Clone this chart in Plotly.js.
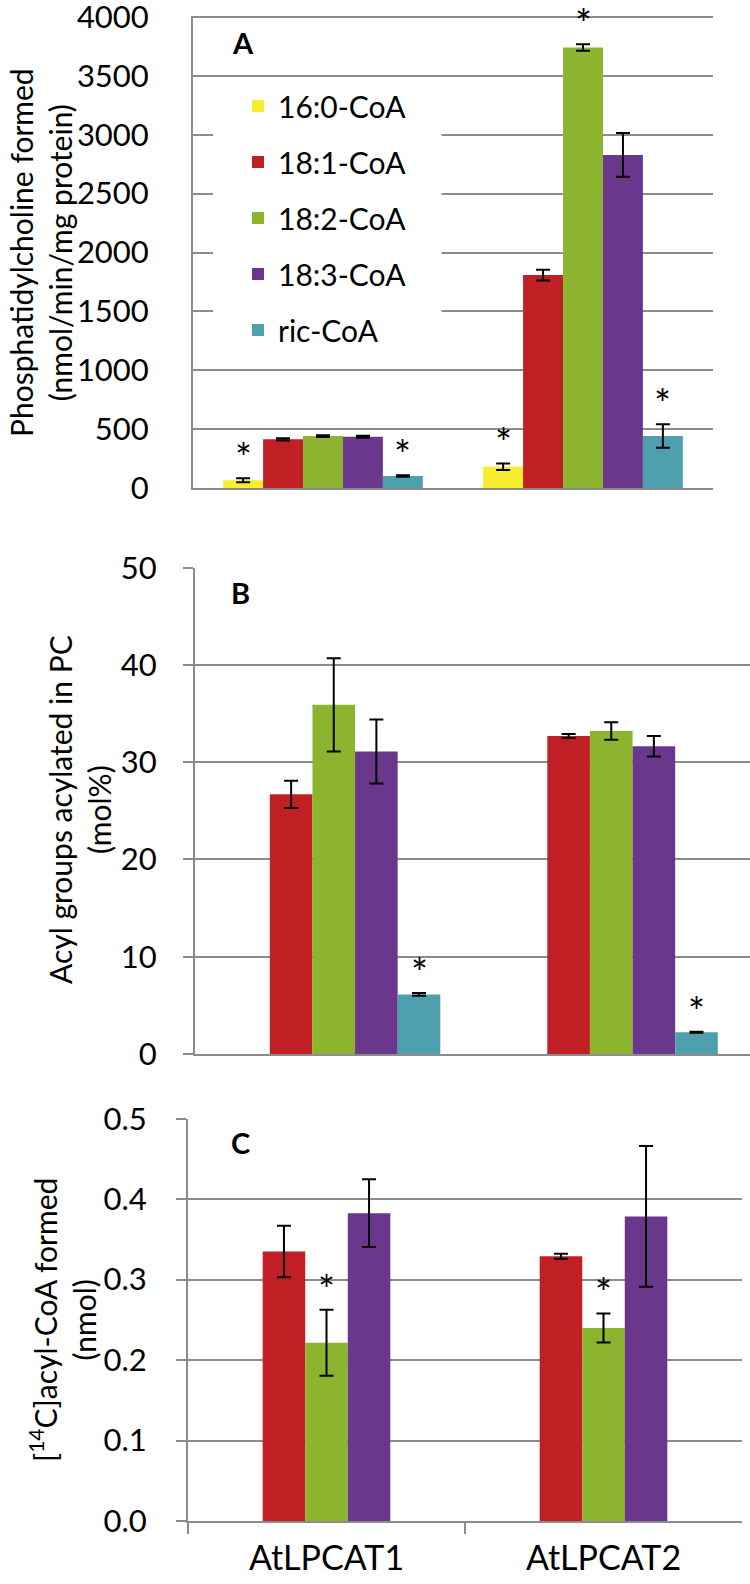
<!DOCTYPE html>
<html>
<head>
<meta charset="utf-8">
<script src="https://cdn.plot.ly/plotly-3.0.1.min.js"></script>
<style>html,body{margin:0;padding:0;background:#fff;}#chart{width:750px;height:1584px;}</style>
</head>
<body>
<div id="chart"></div>
<script>
// ---------- data ----------
const categories = ['AtLPCAT1', 'AtLPCAT2'];
const seriesNames = ['16:0-CoA', '18:1-CoA', '18:2-CoA', '18:3-CoA', 'ric-CoA'];
const seriesColors = ['#F8EE2D', '#C01F24', '#8CB42F', '#6B378C', '#4FA0AE'];

// Panel A: phosphatidylcholine formed (nmol/min/mg protein)
const a160 = [65, 181];     const a160Err = [17, 28];
const a181 = [413, 1808];   const a181Err = [9, 45];
const a182 = [441, 3741];   const a182Err = [7, 28];
const a183 = [435, 2829];   const a183Err = [8, 185];
const aRic = [102, 441];    const aRicErr = [7, 100];
const aSig = [[true, true], [false, false], [false, true], [false, false], [true, true]];

// Panel B: acyl groups acylated in PC (mol%)
const b160 = [null, null];  const b160Err = [null, null];
const b181 = [26.7, 32.7];  const b181Err = [1.4, 0.2];
const b182 = [35.9, 33.2];  const b182Err = [4.8, 0.9];
const b183 = [31.1, 31.65]; const b183Err = [3.3, 1.05];
const bRic = [6.13, 2.23];  const bRicErr = [0.15, 0.05];
const bSig = [[false, false], [false, false], [false, false], [false, false], [true, true]];

// Panel C: [14C]acyl-CoA formed (nmol)
const c160 = [null, null];    const c160Err = [null, null];
const c181 = [0.335, 0.329];  const c181Err = [0.032, 0.003];
const c182 = [0.2215, 0.240]; const c182Err = [0.041, 0.018];
const c183 = [0.3826, 0.3785];const c183Err = [0.042, 0.0875];
const cRic = [null, null];    const cRicErr = [null, null];
const cSig = [[false, false], [false, false], [true, true], [false, false], [false, false]];

const yTicksA = [0, 500, 1000, 1500, 2000, 2500, 3000, 3500, 4000];
const yTicksB = [0, 10, 20, 30, 40, 50];
const yTicksC = [0, 0.1, 0.2, 0.3, 0.4, 0.5];

// ---------- layout helpers ----------
const W = 750, H = 1584;
const px = v => v / W;
const py = v => 1 - v / H;
const FONT = 'Lato, "Open Sans", sans-serif';
const GRID = '#8C8C8C';
const BARGAP = 0.232;
const TICKSIZE = 31;

const panels = [
  {vals: [a160, a181, a182, a183, aRic], errs: [a160Err, a181Err, a182Err, a183Err, aRicErr], sig: aSig, xa: 'x', ya: 'y', legend: true},
  {vals: [b160, b181, b182, b183, bRic], errs: [b160Err, b181Err, b182Err, b183Err, bRicErr], sig: bSig, xa: 'x2', ya: 'y2', legend: false},
  {vals: [c160, c181, c182, c183, cRic], errs: [c160Err, c181Err, c182Err, c183Err, cRicErr], sig: cSig, xa: 'x3', ya: 'y3', legend: false}
];

const traces = [];
const annotations = [];
panels.forEach(p => {
  p.vals.forEach((v, k) => {
    traces.push({
      type: 'bar', x: categories, y: v, name: seriesNames[k],
      xaxis: p.xa, yaxis: p.ya,
      legendgroup: seriesNames[k], showlegend: p.legend,
      marker: {color: seriesColors[k], line: {width: 0}},
      error_y: {type: 'data', array: p.errs[k], visible: true, color: '#000', thickness: 2, width: 7},
      hoverinfo: 'x+y+name'
    });
    // significance asterisks above error bars
    const n = p.vals.length, w = (1 - BARGAP) / n;
    v.forEach((val, i) => {
      if (p.sig[k][i] && val != null) {
        annotations.push({
          xref: p.xa, yref: p.ya,
          x: i + (k - (n - 1) / 2) * w, y: val + (p.errs[k][i] || 0),
          text: '*', showarrow: false, yanchor: 'bottom', xanchor: 'center', yshift: -6,
          font: {family: FONT, size: 40, color: '#000'}
        });
      }
    });
  });
});

// panel letters
[['A', 243, 43], ['B', 240, 592], ['C', 240, 1142]].forEach(([t, xx, yy]) => {
  annotations.push({xref: 'paper', yref: 'paper', x: px(xx), y: py(yy), text: '<b>' + t + '</b>',
    showarrow: false, xanchor: 'center', yanchor: 'middle', font: {family: FONT, size: 29, color: '#000'}});
});
// axis titles
[['Phosphatidylcholine formed<br>(nmol/min/mg protein)', 41, 253],
 ['Acyl groups acylated in PC<br>(mol%)', 79, 810],
 ['[<sup>14</sup>C]acyl-CoA formed<br>(nmol)', 62, 1320]].forEach(([t, xx, yy]) => {
  annotations.push({xref: 'paper', yref: 'paper', x: px(xx), y: py(yy), text: t, textangle: -90,
    showarrow: false, xanchor: 'center', yanchor: 'middle', font: {family: FONT, size: 30, color: '#000'}});
});

const yBase = {showgrid: true, gridcolor: GRID, gridwidth: 2, zeroline: false, showline: true,
  linecolor: GRID, linewidth: 2, tickfont: {family: FONT, size: TICKSIZE, color: '#000'}, tickmode: 'array',
  ticklabeloverflow: 'allow', fixedrange: true};
const xBase = {type: 'category', showgrid: false, zeroline: false, showline: true, linecolor: GRID, linewidth: 2,
  fixedrange: true, tickfont: {family: FONT, size: 34, color: '#000'}};

// panel A: tiny headroom above 4000 so the top gridline is kept
const A_TOP = 4012;
const layout = {
  width: W, height: H, margin: {l: 0, r: 0, t: 0, b: 0},
  paper_bgcolor: '#fff', plot_bgcolor: 'rgba(0,0,0,0)',
  barmode: 'group', bargap: BARGAP, bargroupgap: 0,
  font: {family: FONT, color: '#000'},
  showlegend: true,
  legend: {x: px(238), y: py(80), xanchor: 'left', yanchor: 'top', bgcolor: 'rgba(0,0,0,0)',
    font: {family: FONT, size: 30, color: '#000'}, tracegroupgap: 14, traceorder: 'grouped'},
  xaxis: Object.assign({}, xBase, {domain: [px(193), px(713)], anchor: 'y', showticklabels: false, ticks: ''}),
  yaxis: Object.assign({}, yBase, {domain: [py(488), py(15.6)], anchor: 'x', range: [0, A_TOP], tickvals: yTicksA,
    ticks: '', ticklabelstandoff: 36}),
  xaxis2: Object.assign({}, xBase, {domain: [px(195), px(750)], anchor: 'y2', showticklabels: false, ticks: ''}),
  yaxis2: Object.assign({}, yBase, {domain: [py(1054), py(567.7)], anchor: 'x2', range: [0, 50], tickvals: yTicksB,
    ticks: 'outside', ticklen: 10, tickwidth: 2, tickcolor: GRID, ticklabelstandoff: 20}),
  xaxis3: Object.assign({}, xBase, {domain: [px(188), px(742)], anchor: 'y3', ticks: 'outside', tickson: 'boundaries',
    ticklen: 11, tickwidth: 2, tickcolor: GRID, ticklabelstandoff: 6}),
  yaxis3: Object.assign({}, yBase, {domain: [py(1521), py(1118.7)], anchor: 'x3', range: [0, 0.5], tickvals: yTicksC,
    tickformat: '.1f', ticks: 'outside', ticklen: 10, tickwidth: 2, tickcolor: GRID, ticklabelstandoff: 23}),
  shapes: [
    // white legend box interrupting the gridlines behind the legend
    {type: 'rect', layer: 'above', xref: 'paper', yref: 'paper', x0: px(213), x1: px(441.5),
     y0: py(368), y1: py(80), fillcolor: '#fff', line: {width: 0}}
  ],
  annotations: annotations
};

Plotly.newPlot('chart', traces, layout, {displayModeBar: false, staticPlot: true});
</script>
</body>
</html>
